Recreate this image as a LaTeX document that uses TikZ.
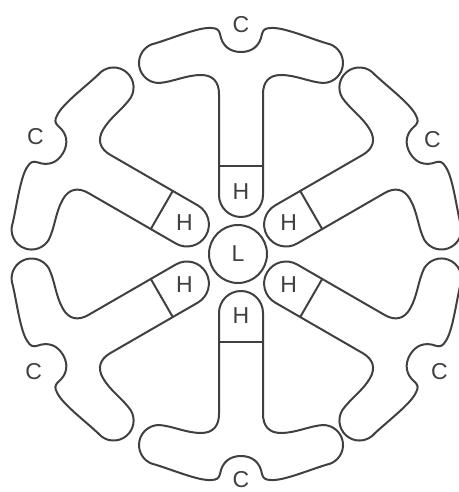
\documentclass[tikz,border=0pt]{standalone}
\usepackage{fontspec}
\setmainfont{Liberation Sans}
\definecolor{ink}{HTML}{404040}
\tikzset{
  outl/.style={draw=ink, line width=2pt, line join=round},
  lbl/.style={font=\fontsize{23}{23}\selectfont, text=ink, inner sep=0pt},
  tunit/.pic={
    \draw[outl] (22,59) -- (22,160)
      .. controls (22,172) and (28,179) .. (40,179)
      .. controls (55,179) and (68,172) .. (82,171)
      arc[start angle=-90, end angle=80, radius=20pt]
      .. controls (68,216) and (42,227) .. (30,226)
      .. controls (24,226) and (22,224) .. (21,220)
      .. controls (19,208) and (11,202) .. (0,202)
      .. controls (-11,202) and (-19,208) .. (-21,220)
      .. controls (-22,224) and (-24,226) .. (-30,226)
      .. controls (-42,227) and (-68,216) .. (-85.5,210.7)
      arc[start angle=100, end angle=270, radius=20pt]
      .. controls (-68,172) and (-55,179) .. (-40,179)
      .. controls (-28,179) and (-22,172) .. (-22,160)
      -- (-22,59)
      arc[start angle=180, end angle=360, radius=22pt] -- cycle;
    \draw[outl] (-22,88) -- (22,88);
  }
}
\begin{document}
\begin{tikzpicture}[x=1pt,y=1pt]
\useasboundingbox (-238,-238) rectangle (220,254);
\node[outl, circle, minimum size=58pt, inner sep=0pt] (lc) at (0,0) {};
\node[lbl] (l) at (lc) {L};
\foreach \a/\dx/\cd/\n in {90/3/229/1, 30/-3/228/2, -30/-3/236/3, -90/3/226/4, -150/0/236/5, 150/0/234/6}{
  \begin{scope}[xshift=\dx pt]
    \pic[rotate=\a-90] at (0,0) {tunit};
    \node[lbl] (h\n) at (\a:62) {H};
    \node[lbl] (c\n) at (\a:\cd) {C};
  \end{scope}
}
\end{tikzpicture}
\end{document}
